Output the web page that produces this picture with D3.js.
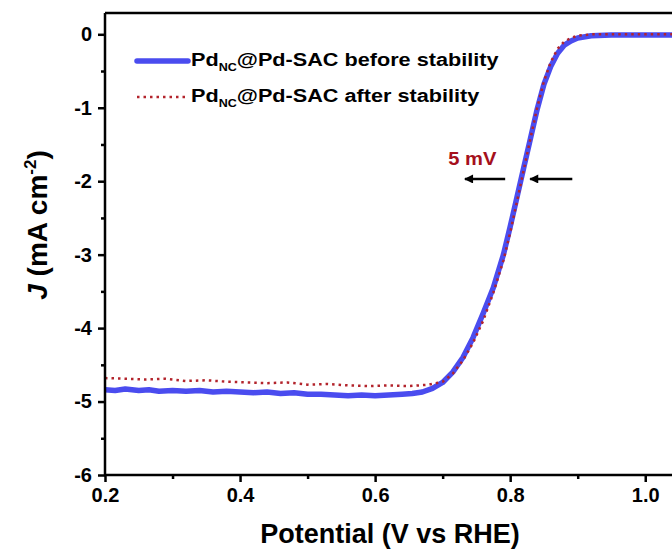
<!DOCTYPE html>
<html lang="en">
<head>
    <meta charset="UTF-8">
    <title>LSV stability</title>
    <script src="https://d3js.org/d3.v7.min.js"></script>
    <style>
        body { margin: 0; background: #fff; }
        text { font-family: "Liberation Sans", Arial, sans-serif; font-weight: bold; }
    </style>
</head>
<body>
    <svg id="chart" width="672" height="551"></svg>
    <script>
        // before stability (blue, solid)
        const beforeX = [0.20, 0.215, 0.23, 0.25, 0.265, 0.28, 0.30, 0.32, 0.34, 0.36, 0.38, 0.40, 0.42, 0.44, 0.46, 0.48, 0.50,
            0.52, 0.54, 0.56, 0.58, 0.60, 0.62, 0.64, 0.655, 0.67, 0.685, 0.70, 0.715, 0.73, 0.745, 0.76, 0.775,
            0.79, 0.80, 0.81, 0.82, 0.83, 0.84, 0.85, 0.86, 0.87, 0.88, 0.89, 0.90, 0.92, 0.95, 1.00, 1.05];
        const beforeJ = [-4.84, -4.85, -4.83, -4.85, -4.84, -4.86, -4.85, -4.86, -4.85, -4.87, -4.86, -4.87, -4.88, -4.87, -4.89, -4.88, -4.90,
            -4.90, -4.91, -4.92, -4.91, -4.92, -4.91, -4.90, -4.89, -4.87, -4.82, -4.74, -4.60, -4.40, -4.13, -3.80, -3.45,
            -3.00, -2.62, -2.22, -1.82, -1.42, -1.02, -0.68, -0.44, -0.26, -0.15, -0.09, -0.05, -0.02, -0.01, -0.01, -0.01];

        // after stability (red, dotted)
        const afterX = [0.20, 0.23, 0.26, 0.29, 0.32, 0.35, 0.38, 0.41, 0.44, 0.47, 0.50, 0.53, 0.56, 0.59, 0.62, 0.65, 0.68,
            0.70, 0.715, 0.73, 0.745, 0.76, 0.775, 0.79, 0.80, 0.81, 0.82, 0.83, 0.84, 0.85, 0.86, 0.87, 0.88, 0.89,
            0.90, 0.92, 0.95, 1.00, 1.05];
        const afterJ = [-4.68, -4.69, -4.70, -4.69, -4.72, -4.71, -4.73, -4.74, -4.75, -4.74, -4.77, -4.76, -4.78, -4.79, -4.78, -4.79, -4.77,
            -4.73, -4.62, -4.44, -4.20, -3.90, -3.52, -3.08, -2.70, -2.28, -1.85, -1.42, -1.00, -0.64, -0.38, -0.20, -0.10, -0.05,
            -0.02, 0.00, 0.00, 0.00, 0.00];

        const xTicks = [0.2, 0.4, 0.6, 0.8, 1.0];
        const yTicks = [0, -1, -2, -3, -4, -5, -6];
        const seriesNames = ["before stability", "after stability"];

        const svg = d3.select("#chart");
        const x = d3.scaleLinear().domain([0.2, 1.05]).range([105, 679]);
        const y = d3.scaleLinear().domain([-6, 0.29]).range([475, 13]);

        const line = d3.line().x(d => x(d[0])).y(d => y(d[1]));

        // frame (top and right)
        svg.append("path")
            .attr("d", `M${x.range()[0]},${y.range()[1]}H${x.range()[1]}V${y.range()[0]}`)
            .attr("fill", "none").attr("stroke", "#000").attr("stroke-width", 2.5);

        // curves
        svg.append("path")
            .datum(d3.zip(beforeX, beforeJ))
            .attr("d", line)
            .attr("fill", "none").attr("stroke", "#4a4cef").attr("stroke-width", 5.5)
            .attr("stroke-linejoin", "round");
        svg.append("path")
            .datum(d3.zip(afterX, afterJ))
            .attr("d", line)
            .attr("fill", "none").attr("stroke", "#b3242c").attr("stroke-width", 2.5)
            .attr("stroke-dasharray", "2.5,4");

        // axes
        const fmt = d => d === 0 ? "0" : String(d).replace("\u2212", "-");
        const xAxis = d3.axisBottom(x).tickValues(xTicks).tickFormat(d3.format(".1f")).tickSize(7).tickPadding(6);
        const xMinor = d3.axisBottom(x).tickValues([0.3, 0.5, 0.7, 0.9]).tickFormat("").tickSize(4);
        const yAxis = d3.axisLeft(y).tickValues(yTicks).tickFormat(fmt).tickSize(7).tickPadding(6);
        const yMinor = d3.axisLeft(y).tickValues([-0.5, -1.5, -2.5, -3.5, -4.5, -5.5]).tickFormat("").tickSize(4);

        function styleAxis(g) {
            g.select(".domain").remove();
            g.selectAll("line").attr("stroke", "#000").attr("stroke-width", 2.5);
            g.selectAll("text").attr("fill", "#000").style("font-size", "20px");
        }

        svg.append("g").attr("transform", `translate(0,${y(-6)})`).call(xMinor).call(styleAxis);
        svg.append("g").attr("transform", `translate(0,${y(-6)})`).call(xAxis).call(styleAxis);
        svg.append("g").attr("transform", `translate(${x(0.2)},0)`).call(yMinor).call(styleAxis);
        svg.append("g").attr("transform", `translate(${x(0.2)},0)`).call(yAxis).call(styleAxis);

        svg.append("path")
            .attr("d", `M${x.range()[0]},${y.range()[1]}V${y.range()[0]}H${x.range()[1]}`)
            .attr("fill", "none").attr("stroke", "#000").attr("stroke-width", 2.5);

        // axis titles
        svg.append("text")
            .attr("x", 390).attr("y", 543)
            .attr("text-anchor", "middle")
            .style("font-size", "27px")
            .text("Potential (V vs RHE)");

        const yt = svg.append("text")
            .attr("transform", "translate(47,225) rotate(-90)")
            .attr("text-anchor", "middle")
            .style("font-size", "28px");
        yt.append("tspan").style("font-style", "italic").text("J");
        yt.append("tspan").text(" (mA cm");
        yt.append("tspan").attr("dy", -11).style("font-size", "17px").text("-2");
        yt.append("tspan").attr("dy", 11).text(")");

        // legend
        const legend = svg.append("g");
        const legendRows = [
            { name: seriesNames[0], color: "#4a4cef", width: 5.5, dash: null, y: 61 },
            { name: seriesNames[1], color: "#b3242c", width: 2.5, dash: "2.5,4", y: 97 }
        ];
        legendRows.forEach(r => {
            legend.append("line")
                .attr("x1", 137).attr("x2", 188).attr("y1", r.y).attr("y2", r.y)
                .attr("stroke", r.color).attr("stroke-width", r.width)
                .attr("stroke-linecap", r.dash ? "butt" : "round")
                .attr("stroke-dasharray", r.dash);
            const t = legend.append("text")
                .attr("transform", `translate(191,${r.y + 5}) scale(1.14,1)`)
                .style("font-size", "19px");
            t.append("tspan").text("Pd");
            t.append("tspan").attr("dy", 5).style("font-size", "11px").text("NC");
            t.append("tspan").attr("dy", -5).text("@Pd-SAC " + r.name);
        });

        // 5 mV annotation
        const arrowY = -1.97;
        svg.append("defs").append("marker")
            .attr("id", "head").attr("viewBox", "0 0 10 10")
            .attr("refX", 9).attr("refY", 5)
            .attr("markerWidth", 4.4).attr("markerHeight", 3.6)
            .attr("markerUnits", "strokeWidth")
            .attr("orient", "auto")
            .append("path").attr("d", "M0,0L10,5L0,10Z").attr("fill", "#000");
        [[0.7926, 0.733], [0.892, 0.8296]].forEach(([x1, x2]) => {
            svg.append("line")
                .attr("x1", x(x1)).attr("x2", x(x2)).attr("y1", y(arrowY)).attr("y2", y(arrowY))
                .attr("stroke", "#000").attr("stroke-width", 2.5)
                .attr("marker-end", "url(#head)");
        });
        svg.append("text")
            .attr("transform", `translate(${x(0.744)},${y(-1.78)}) scale(1.12,1)`)
            .attr("text-anchor", "middle")
            .attr("fill", "#a5101c")
            .style("font-size", "18px")
            .text("5 mV");
    </script>
</body>
</html>
